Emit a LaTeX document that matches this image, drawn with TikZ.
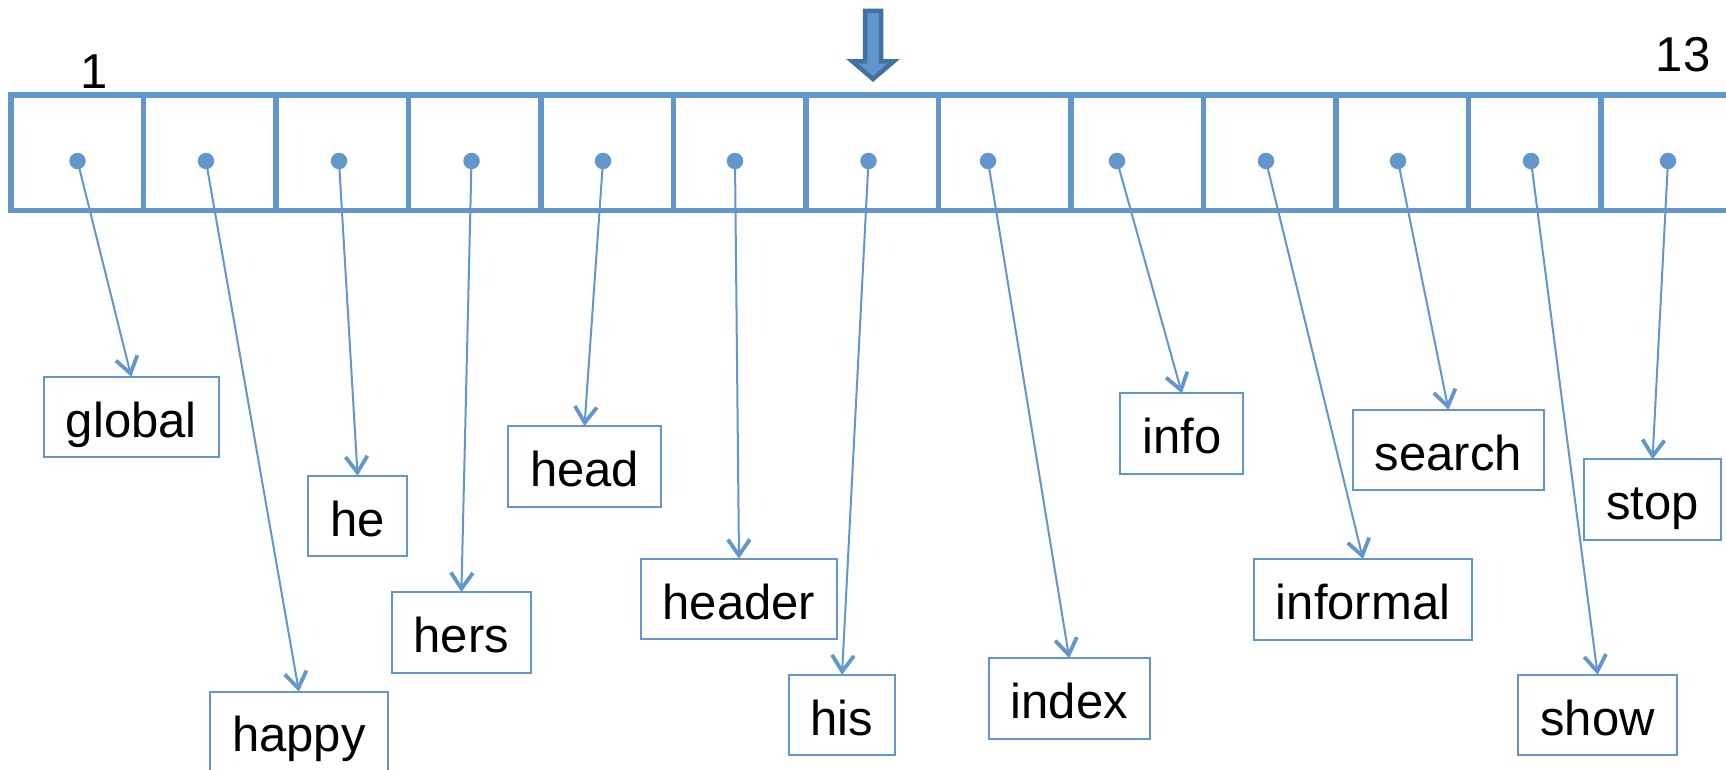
\documentclass[tikz,border=0pt]{standalone}
\usepackage{fontspec}
\setmainfont{Liberation Sans}
\usetikzlibrary{arrows.meta}
\definecolor{frameblue}{RGB}{99,150,202}
\definecolor{arrowdark}{RGB}{66,112,160}
\definecolor{arrowfill}{RGB}{98,149,204}
\begin{document}
\begin{tikzpicture}[x=1pt,y=-1pt,
  cellbox/.style={draw=frameblue, line width=5.5pt, minimum width=132.5pt,
    minimum height=115.7pt, inner sep=0pt, outer sep=0pt},
  ptr/.style={circle, fill=frameblue, minimum size=16.5pt, inner sep=0pt},
  word/.style={draw=frameblue, line width=2pt, font=\fontsize{49}{58}\selectfont,
    text height=50pt, text depth=10pt, inner xsep=22pt, inner ysep=10.25pt, outer sep=0pt},
  link/.style={draw=frameblue, line width=2pt,
    -{Straight Barb[length=16pt, width=22pt, line width=3.8pt]}},
  idx/.style={font=\fontsize{49}{58}\selectfont, anchor=base, inner sep=0pt},
  bigarrow/.style={draw=arrowdark, fill=arrowfill, line width=4.5pt, line join=miter}]
\useasboundingbox (0,0) rectangle (1726,770);
\clip (0,0) rectangle (1726,770);
\fill[white] (0,0) rectangle (1726,770);

% the array of 13 slots
\foreach \k in {1,...,13}
  \node[cellbox] (c\k) at ({77.25+(\k-1)*132.5},152.85) {};

% slot numbers
\node[idx] (n1) at (94.3,88.3) {1};
\node[idx] (n13) at (1683,72) {13};

% current position marker
\draw[bigarrow] (865,11) -- (881,11) -- (881,61.5) -- (893.5,61.5) -- (873,79)
  -- (852.5,61.5) -- (865,61.5) -- cycle;

% pointers stored in the slots
\foreach \k/\x in {1/77.5, 2/206, 3/339, 4/471.5, 5/603, 6/735, 7/868.5,
                   8/988, 9/1117, 10/1266, 11/1398, 12/1531, 13/1668}
  \node[ptr] (p\k) at (\x,161) {};

% the words
\node[word] (w1)  at (131.3,417)   {global};
\node[word] (w2)  at (298.9,731.8) {happy};
\node[word] (w3)  at (357.6,516)   {he};
\node[word] (w4)  at (461.4,632.3) {hers};
\node[word] (w5)  at (584.5,466.3) {head};
\node[word] (w6)  at (739,599)     {header};
\node[word] (w7)  at (842,715)     {his};
\node[word] (w8)  at (1069.2,698.3){index};
\node[word] (w9)  at (1181.9,433.6){info};
\node[word] (w10) at (1363,599.3)  {informal};
\node[word] (w11) at (1448.5,450)  {search};
\node[word] (w12) at (1597.6,715)  {show};
\node[word] (w13) at (1652.5,499.6){stop};

% links from slots to words
\foreach \k in {1,...,13}
  \draw[link] (p\k.center) -- (w\k.north);
\end{tikzpicture}
\end{document}
